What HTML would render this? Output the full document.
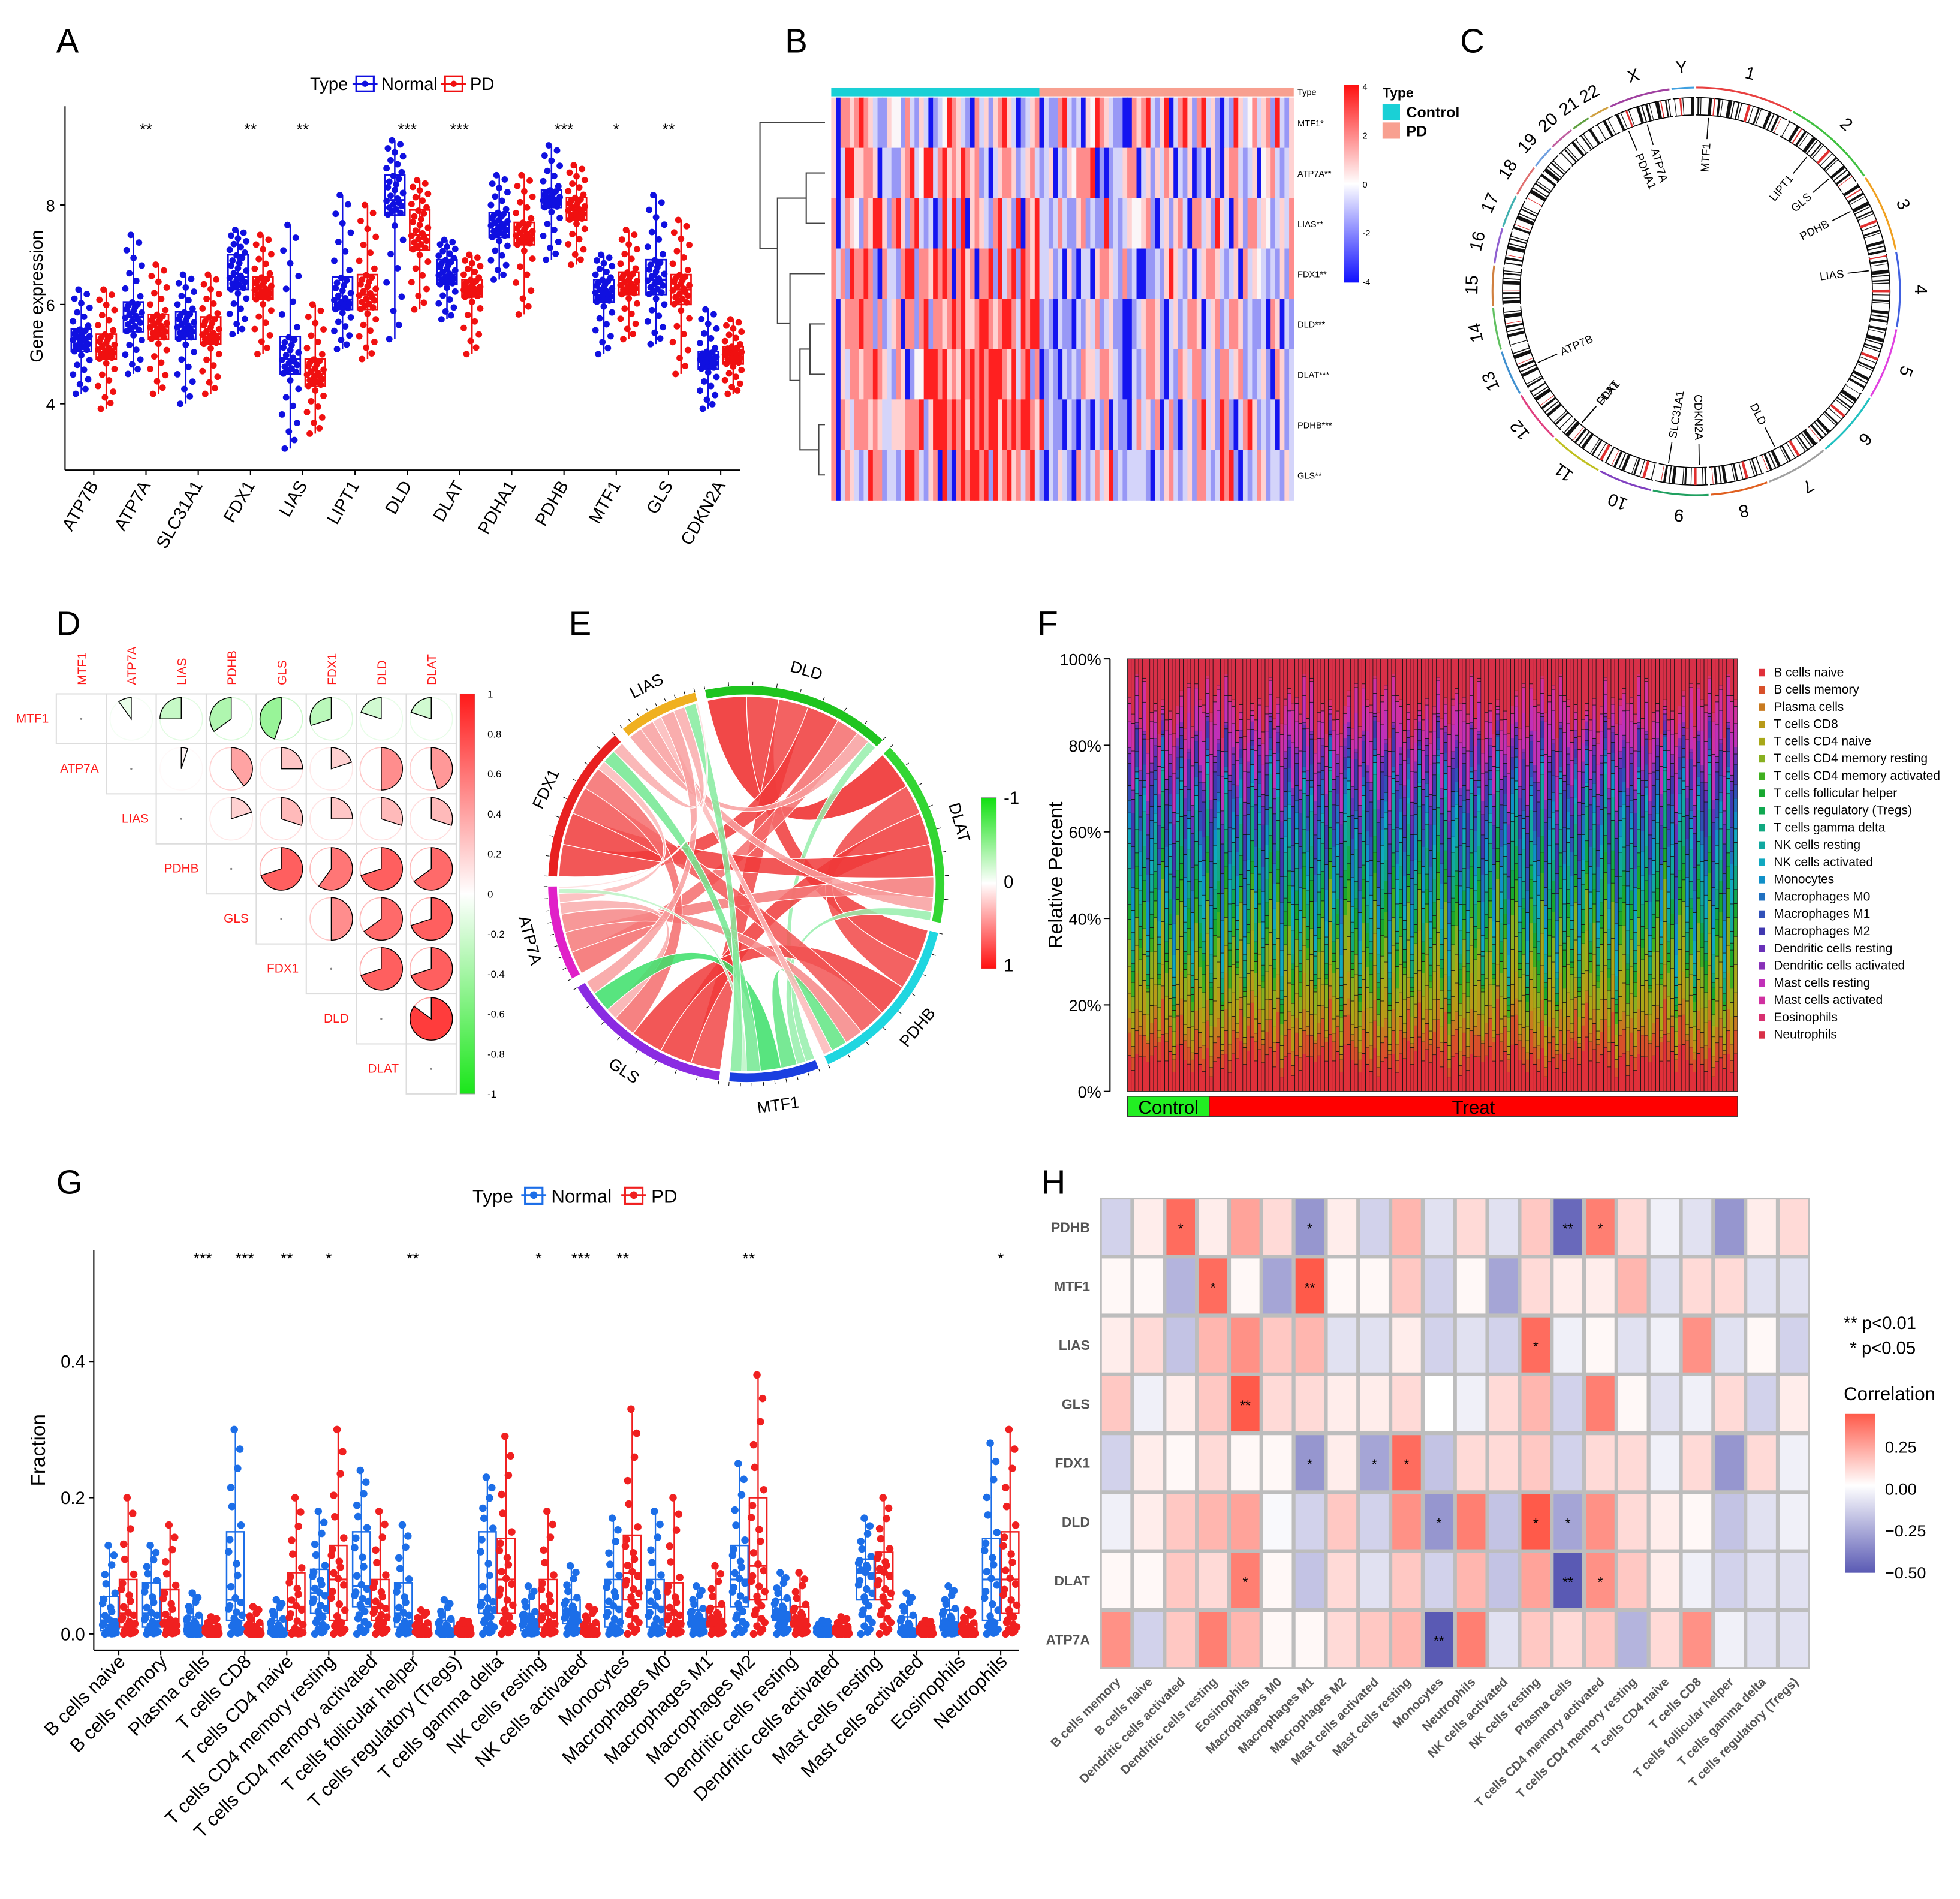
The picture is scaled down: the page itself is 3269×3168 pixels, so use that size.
<!DOCTYPE html>
<html><head><meta charset="utf-8"><title>Figure</title>
<style>
html,body{margin:0;padding:0;background:#fff;}
svg{display:block;font-family:"Liberation Sans",Arial,sans-serif;}
</style></head>
<body>
<svg id="fig" xmlns="http://www.w3.org/2000/svg" width="3269" height="3168" viewBox="0 0 1568 1519" preserveAspectRatio="none">
<rect x="0" y="0" width="1568" height="1519" fill="#fff"/>
<defs>
<linearGradient id="gB" x1="0" y1="0" x2="0" y2="1"><stop offset="0" stop-color="#ff1010"/><stop offset="0.5" stop-color="#ffffff"/><stop offset="1" stop-color="#1010ff"/></linearGradient>
<linearGradient id="gD" x1="0" y1="0" x2="0" y2="1"><stop offset="0" stop-color="#ff1a1a"/><stop offset="0.5" stop-color="#ffffff"/><stop offset="1" stop-color="#1ae61a"/></linearGradient>
<linearGradient id="gE" x1="0" y1="0" x2="0" y2="1"><stop offset="0" stop-color="#10e010"/><stop offset="0.5" stop-color="#ffffff"/><stop offset="1" stop-color="#ff1010"/></linearGradient>
<linearGradient id="gH" x1="0" y1="0" x2="0" y2="1"><stop offset="0" stop-color="#ff5a4a"/><stop offset="0.45" stop-color="#ffffff"/><stop offset="1" stop-color="#5a5ab4"/></linearGradient>
</defs>
</svg>
<script>
// ---------- Panel A data ----------
const genesA=["ATP7B","ATP7A","SLC31A1","FDX1","LIAS","LIPT1","DLD","DLAT","PDHA1","PDHB","MTF1","GLS","CDKN2A"];
const normalA=[[4.2,5.05,5.3,5.5,6.3],[4.6,5.45,5.75,6.05,7.4],[4.0,5.3,5.55,5.85,6.6],[5.4,6.3,6.55,7.0,7.5],[3.1,4.6,4.9,5.35,7.6],[5.1,5.9,6.1,6.55,8.2],[5.3,7.8,8.1,8.6,9.3],[5.7,6.4,6.6,6.9,7.3],[6.5,7.35,7.6,7.85,8.6],[6.9,7.95,8.1,8.3,9.2],[5.0,6.05,6.25,6.5,7.0],[5.2,6.2,6.5,6.9,8.2],[3.9,4.7,4.9,5.05,5.9]];
const pdA=[[3.9,4.9,5.1,5.4,6.3],[4.2,5.3,5.55,5.8,6.8],[4.2,5.2,5.4,5.75,6.6],[5.0,6.1,6.3,6.55,7.4],[3.4,4.35,4.6,4.9,6.0],[4.9,5.9,6.2,6.6,8.0],[5.9,7.1,7.4,7.9,8.5],[5.0,6.15,6.3,6.5,7.0],[5.8,7.2,7.4,7.65,8.6],[6.8,7.7,7.9,8.15,8.8],[5.3,6.2,6.4,6.65,7.5],[4.6,6.0,6.3,6.6,7.7],[4.2,4.8,5.0,5.15,5.7]];
const sigA=["","**","","**","**","","***","***","","***","*","**",""];
const ticksA=[4,6,8];
// ---------- Panel B data ----------
const rowsB=["MTF1*","ATP7A**","LIAS**","FDX1**","DLD***","DLAT***","PDHB***","GLS**"];
const cellsB=[
"pBrrprRrpqbbpwwbrqbpqBbqwRrpqbBrqpbprRpqBbqprBqbbrRqbqBpwRrpqbbBBrprRqbpRBqrRpbrRqpbBqbRpqwrqprbRqb",
"pBqRRpprrpBqqbbprRqwRRqrRprpRrprbqBqprrpbqprqbqpBqbpwrrrRBbBbqqprrBqpbpqrpBqbpBbqBpbBprrqbqpBwprqbq",
"rBqrpwbrpRRpbrRpbrRqbqBbRqRbRBprpqbrRqpbRBrpRqqbqrqbbprbqbbRbqbqpwwprbBqpbprqBrrqpbRpqBrpbrrqpwbqpq",
"rqrbRrrRrbBrqqbrRRbrrpRrRrBrRprBrrRbRqrRbRrpRqqpbqBpbBqqBprrpqbrbqBBbbqbpRpqbpBqprrpqbqpBrqpwqbqbpb",
"rBprrrRrrbrbqprBrrbrRbrrprRrRpprRRrprRRrqRrRRbqbBqbbBqbpqrbqpbbBBbqprrpbBqpbqrrpBqprbqrrpbqbbqBrpBqb",
"rBpqrrprrRrpqbrpBbwwRRRrRprpRrRrRrRRRrpRqrRbrBbqbBqbqbrppqrrpqbBBqbqrrpbBqbrpqrrbqpbrrqprbqbqpbBrpbq",
"rBrpqrrrprpqqppprrrRbpRRRrRrRpRrRrRRpRrRrRRrpRbqbbBqbBqbBqbrBqbbBqrqpbrBqrbBqpbrRqpbRrbBqrRpbqbqBpbq",
"rBqrpqbqRrrbqqbqRRrqbprBRbBrRrRRrRbRprRprqrRqbBqbpqbBrqbqrqpRbqbqqqqbBqbprqbqpbrrqbqRrRbBqbqrpbqqbpq"];
const ticksB=[4,2,0,-2,-4];
// ---------- Panel C data ----------
const chromNames=["1","2","3","4","5","6","7","8","9","10","11","12","13","14","15","16","17","18","19","20","21","22","X","Y"];
const chromSizes=[249,243,198,191,181,171,159,146,141,136,135,134,115,107,102,90,83,80,59,64,47,51,156,57];
const geneNamesC=["MTF1","LIPT1","GLS","PDHB","LIAS","DLD","CDKN2A","SLC31A1","DLAT","FDX1","ATP7B","PDHA1","ATP7A"];
const geneChrC=[0,1,1,2,3,6,8,8,10,10,12,22,22];
const genePosC=[36,99,191,58,39,107,22,113,111,110,52,19,77];
// ---------- Panel D data ----------
const genesD=["MTF1","ATP7A","LIAS","PDHB","GLS","FDX1","DLD","DLAT"];
const corrD=[
[1,-0.1,-0.25,-0.35,-0.45,-0.3,-0.2,-0.2],
[0,1,0.05,0.4,0.25,0.2,0.5,0.45],
[0,0,1,0.2,0.3,0.25,0.3,0.3],
[0,0,0,1,0.7,0.6,0.7,0.65],
[0,0,0,0,1,0.5,0.65,0.7],
[0,0,0,0,0,1,0.7,0.7],
[0,0,0,0,0,0,1,0.85],
[0,0,0,0,0,0,0,1]];
const ticksD=[1,0.8,0.6,0.4,0.2,0,-0.2,-0.4,-0.6,-0.8,-1];
// ---------- Panel E data ----------
const segE=["DLD","DLAT","PDHB","MTF1","GLS","ATP7A","FDX1","LIAS"];
const segColE=["#1fc41f","#33d633","#1fd6e0","#1a3fe0","#8a2be2","#e020c8","#e82020","#f0b020"];
const linkFromE=["DLD","DLD","DLD","DLD","DLD","DLD","DLD","DLAT","DLAT","DLAT","DLAT","DLAT","DLAT","PDHB","PDHB","PDHB","PDHB","PDHB","GLS","GLS","GLS","GLS","FDX1","FDX1","FDX1","MTF1","MTF1","ATP7A"];
const linkToE=["DLAT","PDHB","GLS","FDX1","ATP7A","LIAS","MTF1","PDHB","GLS","FDX1","ATP7A","LIAS","MTF1","GLS","FDX1","ATP7A","MTF1","LIAS","FDX1","ATP7A","MTF1","LIAS","ATP7A","MTF1","LIAS","ATP7A","LIAS","LIAS"];
const linkCorrE=[0.85,0.7,0.65,0.7,0.5,0.3,-0.2,0.65,0.7,0.7,0.45,0.3,-0.2,0.7,0.6,0.4,-0.35,0.2,0.5,0.25,-0.45,0.3,0.2,-0.3,0.25,-0.1,-0.25,0.05];
// ---------- Panel F data ----------
const cellTypes=["B cells naive","B cells memory","Plasma cells","T cells CD8","T cells CD4 naive","T cells CD4 memory resting","T cells CD4 memory activated","T cells follicular helper","T cells regulatory (Tregs)","T cells gamma delta","NK cells resting","NK cells activated","Monocytes","Macrophages M0","Macrophages M1","Macrophages M2","Dendritic cells resting","Dendritic cells activated","Mast cells resting","Mast cells activated","Eosinophils","Neutrophils"];
const colorsF=["#e0303a","#d8502a","#c87a20","#b89a18","#a8a818","#88b020","#40b020","#18a830","#10a850","#10a880","#10a8a0","#10a8c0","#1090c8","#2070c0","#3050b8","#4038b0","#6830b8","#8830b8","#c030b8","#d030a0","#d83070","#d83048"];
const meanF=[0.08,0.05,0.03,0.05,0.06,0.06,0.04,0.03,0.03,0.05,0.05,0.04,0.05,0.04,0.04,0.06,0.03,0.02,0.07,0.05,0.02,0.12];
const nControlF=22, nTreatF=142;
const shiftF=[0.02,-0.03,0.05,-0.01,0.04,-0.05,0.0,0.03,-0.04,0.06,-0.02,0.01,-0.06,0.03,0.05,-0.03,0.02,-0.05,0.04,0.0,-0.02,0.06,-0.04,0.01,0.03,-0.06,0.05,-0.01,0.02,-0.03,0.04,-0.05,0.0,0.05,-0.02,0.03,-0.04,0.01,0.06,-0.03,0.045,-0.055,0.015,0.035,-0.025];
const ticksF=["0%","20%","40%","60%","80%","100%"];
// ---------- Panel G data ----------
const normalG=[[0,0.005,0.02,0.055,0.13],[0,0.01,0.03,0.075,0.13],[0,0,0.01,0.025,0.06],[0,0.02,0.05,0.15,0.3],[0,0,0.005,0.02,0.05],[0,0.03,0.06,0.095,0.18],[0,0.04,0.07,0.15,0.24],[0,0.01,0.03,0.075,0.16],[0,0,0.005,0.02,0.05],[0,0.03,0.05,0.15,0.23],[0,0.005,0.02,0.03,0.07],[0,0.015,0.03,0.05,0.1],[0,0.01,0.04,0.08,0.17],[0,0.01,0.04,0.08,0.18],[0,0.01,0.02,0.035,0.07],[0,0.04,0.08,0.13,0.25],[0,0.02,0.03,0.05,0.09],[0,0,0.005,0.01,0.02],[0,0.05,0.09,0.11,0.17],[0,0,0.005,0.025,0.06],[0,0.005,0.015,0.035,0.07],[0,0.02,0.08,0.14,0.28]];
const pdG=[[0,0.01,0.03,0.08,0.2],[0,0.01,0.02,0.065,0.16],[0,0,0.005,0.01,0.025],[0,0,0.005,0.015,0.04],[0,0.005,0.04,0.09,0.2],[0,0.02,0.08,0.13,0.3],[0,0.02,0.04,0.08,0.18],[0,0,0.005,0.015,0.035],[0,0,0.005,0.01,0.02],[0,0.03,0.08,0.14,0.29],[0,0.01,0.03,0.08,0.18],[0,0,0.005,0.015,0.04],[0,0.05,0.09,0.145,0.33],[0,0.01,0.03,0.075,0.2],[0,0.01,0.02,0.04,0.1],[0,0.05,0.1,0.2,0.38],[0,0.01,0.02,0.04,0.09],[0,0,0.005,0.01,0.025],[0,0.05,0.09,0.12,0.2],[0,0,0.005,0.01,0.02],[0,0,0.005,0.015,0.035],[0,0.03,0.08,0.15,0.3]];
const sigG=["","","***","***","**","*","","**","","","*","***","**","","","**","","","","","","*"];
const ticksG=[0,0.2,0.4];
// ---------- Panel H data ----------
const rowsH=["PDHB","MTF1","LIAS","GLS","FDX1","DLD","DLAT","ATP7A"];
const colsH=["B cells memory","B cells naive","Dendritic cells activated","Dendritic cells resting","Eosinophils","Macrophages M0","Macrophages M1","Macrophages M2","Mast cells activated","Mast cells resting","Monocytes","Neutrophils","NK cells activated","NK cells resting","Plasma cells","T cells CD4 memory activated","T cells CD4 memory resting","T cells CD4 naive","T cells CD8","T cells follicular helper","T cells gamma delta","T cells regulatory (Tregs)"];
const corrH=[
[-0.15,0.05,0.4,0.05,0.25,0.1,-0.35,0.05,-0.15,0.2,-0.1,0.1,-0.1,0.15,-0.5,0.35,0.1,-0.05,-0.1,-0.35,0.05,0.1],
[0.02,0.02,-0.25,0.4,0.02,-0.3,0.45,0.02,0.02,0.15,-0.15,0.02,-0.3,0.1,0.05,0.05,0.2,-0.1,0.1,0.1,-0.1,-0.1],
[0.05,0.1,-0.2,0.2,0.3,0.15,0.2,-0.1,-0.1,0.05,-0.15,-0.1,-0.15,0.4,-0.05,0.02,-0.1,-0.05,0.3,-0.1,0.02,-0.15],
[0.15,-0.05,0.05,0.15,0.45,0.1,0.1,0.05,0.05,0.1,0,-0.05,0.1,0.2,-0.15,0.35,0.02,-0.1,-0.05,0.1,-0.15,0.05],
[-0.15,0.05,0.02,0.1,0.02,0.02,-0.35,0.05,-0.3,0.4,-0.2,0.1,0.1,0.15,-0.15,0.1,0.1,-0.05,0.1,-0.35,0.1,-0.05],
[-0.05,0.05,0.15,0.2,0.25,-0.02,-0.15,0.15,-0.15,0.3,-0.35,0.35,-0.2,0.45,-0.3,0.3,0.1,0.05,0.02,-0.2,-0.1,-0.05],
[0.02,0.02,0.15,0.1,0.35,0.02,-0.2,0.1,-0.1,0.15,-0.15,0.2,-0.2,0.25,-0.55,0.3,0.15,0.05,-0.05,-0.15,-0.1,-0.1],
[0.3,-0.15,0.15,0.35,0.2,0.02,0.02,0.1,0.15,0.2,-0.55,0.35,-0.1,0.15,0.1,0.15,-0.25,0.1,0.3,-0.05,-0.1,-0.1]];
const starsH=[
["","","*","","","","*","","","","","","","","**","*","","","","","",""],
["","","","*","","","**","","","","","","","","","","","","","","",""],
["","","","","","","","","","","","","","*","","","","","","","",""],
["","","","","**","","","","","","","","","","","","","","","","",""],
["","","","","","","*","","*","*","","","","","","","","","","","",""],
["","","","","","","","","","","*","","","*","*","","","","","","",""],
["","","","","*","","","","","","","","","","**","*","","","","","",""],
["","","","","","","","","","","**","","","","","","","","","","",""]];
const ticksH=[0.25,0,-0.25,-0.5];

// ---------- helpers ----------
const NS='http://www.w3.org/2000/svg';
const svg=document.getElementById('fig');
function mk(tag,attrs,parent){const e=document.createElementNS(NS,tag);for(const k in attrs)e.setAttribute(k,attrs[k]);(parent||svg).appendChild(e);return e;}
function nm(e,n){


return e;}
function txt(x,y,s,attrs,parent){const e=mk('text',Object.assign({x:x,y:y},attrs||{}),parent);e.textContent=s;return e;}
function grp(name){const g=mk('g',{});


return g;}
function pol(cx,cy,r,d){const a=d*Math.PI/180;return [cx+r*Math.sin(a),cy-r*Math.cos(a)];}
function arcPath(cx,cy,r,a0,a1){const p0=pol(cx,cy,r,a0),p1=pol(cx,cy,r,a1);const lg=(a1-a0)>180?1:0;return `M${p0[0]},${p0[1]}A${r},${r} 0 ${lg} 1 ${p1[0]},${p1[1]}`;}
function lerp(a,b,t){return Math.round(a+(b-a)*t);}
function mix(c1,c2,t){return `rgb(${lerp(c1[0],c2[0],t)},${lerp(c1[1],c2[1],t)},${lerp(c1[2],c2[2],t)})`;}
function quant(q,t){const s=t*4,i=Math.min(3,Math.floor(s));return q[i]+(q[i+1]-q[i])*(s-i);}
const jit=[-4,3,-1,5,-6,2,-3,6,0,-5,4,-2,1,-4,5,-1,3,-6,2,-3,6,0,-5,1];

// ---------- Panel letters ----------
[["A",45,42],["B",628,42],["C",1168,42],["D",45,508],["E",455,508],["F",830,508],["G",45,955],["H",833,955]].forEach(p=>{nm(txt(p[1],p[2],p[0],{'font-size':27}),'panel-label-'+p[0].toLowerCase());});

// ---------- Panel A ----------
(function(){
const g=grp('panel-a-boxplot');
const yA=v=>323-(v-4)*39.75, xA=i=>75+i*41.8;
nm(mk('line',{x1:52,y1:85,x2:52,y2:376,stroke:'#000','stroke-width':1},g),'y-axis');
nm(mk('line',{x1:52,y1:376,x2:592,y2:376,stroke:'#000','stroke-width':1},g),'x-axis');
ticksA.forEach(t=>{mk('line',{x1:48,x2:52,y1:yA(t),y2:yA(t),stroke:'#000'},g);nm(txt(44,yA(t)+5,String(t),{'font-size':13,'text-anchor':'end'},g),'y-tick-label');});
nm(txt(34,237,'Gene expression',{'font-size':14,'text-anchor':'middle',transform:'rotate(-90 34 237)'},g),'y-axis-title');
nm(txt(248,72,'Type',{'font-size':14},g),'legend-title');
[[285,'#1010e0','Normal'],[356,'#f01010','PD']].forEach(l=>{mk('rect',{x:l[0],y:61,width:14,height:12,fill:'#fff',stroke:l[1],'stroke-width':1.5},g);mk('line',{x1:l[0]-3,x2:l[0]+17,y1:67,y2:67,stroke:l[1],'stroke-width':1.5},g);mk('circle',{cx:l[0]+7,cy:67,r:2.5,fill:l[1]},g);nm(txt(l[0]+20,72,l[2],{'font-size':14},g),'legend-entry');});
genesA.forEach((gn,i)=>{
 [[normalA[i],'#1010e0',-10],[pdA[i],'#f01010',10]].forEach(s=>{
  const q=s[0],c=s[1],x=xA(i)+s[2];
  nm(mk('line',{x1:x,x2:x,y1:yA(q[0]),y2:yA(q[4]),stroke:c,'stroke-width':1.2},g),'whisker');
  for(let k=0;k<36;k++){const v=quant(q,k/35);mk('circle',{cx:x+jit[k%jit.length]*1.1,cy:yA(v),r:2.6,fill:c},g);}
  nm(mk('rect',{x:x-8,y:yA(q[3]),width:16,height:yA(q[1])-yA(q[3]),fill:'none',stroke:c,'stroke-width':1.3},g),'box-'+gn.toLowerCase());
  mk('line',{x1:x-8,x2:x+8,y1:yA(q[2]),y2:yA(q[2]),stroke:c,'stroke-width':1.6},g);
 });
 if(sigA[i])nm(txt(xA(i),108,sigA[i],{'font-size':13,'text-anchor':'middle'},g),'significance');
 mk('line',{x1:xA(i),x2:xA(i),y1:376,y2:380,stroke:'#000'},g);
 nm(txt(xA(i)+4,388,gn,{'font-size':14,'text-anchor':'end',transform:`rotate(-60 ${xA(i)+4} 388)`},g),'x-tick-label');
});
})();

// ---------- Panel B ----------
(function(){
const g=grp('panel-b-heatmap');
const cmap={R:'#ff2020',r:'#ff8c8c',p:'#ffd2d2',w:'#fbf6f8',q:'#d4d4fa',b:'#9898f6',B:'#1414f0'};
const x0=665,x1=1035,y0=78,rh=(400-78)/8,nc=100,cw=(x1-x0)/nc;
nm(mk('rect',{x:x0,y:70,width:(x1-x0)*0.45,height:7,fill:'#1ad0d6'},g),'type-bar-control');
nm(mk('rect',{x:x0+(x1-x0)*0.45,y:70,width:(x1-x0)*0.55,height:7,fill:'#f8a090'},g),'type-bar-pd');
nm(txt(1038,76,'Type',{'font-size':7},g),'type-label');
rowsB.forEach((rn,r)=>{let s=cellsB[r];while(s.length<nc)s+=s;
 for(let c=0;c<nc;c++)mk('rect',{x:x0+c*cw,y:y0+r*rh,width:cw+0.3,height:rh+0.3,fill:cmap[s[c]]||'#fff'},g);
 nm(txt(1038,y0+r*rh+rh/2+3,rn,{'font-size':7},g),'row-label');});
const yc=r=>y0+r*rh+rh/2;
const lines=[
`M660 ${yc(6)}H655V${yc(7)}H660`,`M660 ${yc(4)}H648V${yc(5)}H660`,`M648 ${(yc(4)+yc(5))/2}H640V${(yc(6)+yc(7))/2}H655`,
`M660 ${yc(3)}H632V${(yc(4)+yc(6))/2+5}H640`,`M660 ${yc(1)}H645V${yc(2)}H660`,`M645 ${(yc(1)+yc(2))/2}H622V${yc(3)+40}H632`,
`M660 ${yc(0)}H608V${yc(3)-20}H622`];
lines.forEach(p=>{nm(mk('path',{d:p,stroke:'#444',fill:'none','stroke-width':1},g),'dendrogram-branch');});
nm(mk('rect',{x:1075,y:68,width:12,height:158,fill:'url(#gB)'},g),'colorbar');
ticksB.forEach((t,i)=>{nm(txt(1090,72+i*39,String(t),{'font-size':7},g),'colorbar-tick');});
nm(txt(1106,78,'Type',{'font-size':11,'font-weight':'bold'},g),'legend-title');
nm(mk('rect',{x:1106,y:83,width:14,height:13,fill:'#1ad0d6'},g),'legend-control-swatch');
nm(txt(1125,94,'Control',{'font-size':12,'font-weight':'bold'},g),'legend-entry');
nm(mk('rect',{x:1106,y:98,width:14,height:13,fill:'#f8a090'},g),'legend-pd-swatch');
nm(txt(1125,109,'PD',{'font-size':12,'font-weight':'bold'},g),'legend-entry');
})();

// ---------- Panel C ----------
(function(){
const g=grp('panel-c-circos');
const cx=1357,cy=233,gap=0.6;
const total=chromSizes.reduce((a,b)=>a+b,0),span=360-gap*24;
const pal=["#e84040","#40c040","#f0a020","#4060e0","#e040e0","#20c0c0","#a0a0a0","#e06020","#20a060","#8040c0","#c0c020","#e04080","#4090d0","#60c060","#d08040","#9060d0","#40b0b0","#e07070","#70a0e0","#c060a0","#60a040","#d0a040","#a040a0","#40a0e0"];
const bands=[1.2,0.5,2.0,0.8,1.5,0.4,2.5,0.7,1.0,0.6,1.8,0.5];
let a=0;const starts=[];
chromSizes.forEach((sz,i)=>{const w=sz/total*span;starts.push(a);
 nm(mk('path',{d:arcPath(cx,cy,163,a,a+w),stroke:pal[i],'stroke-width':1.5,fill:'none'},g),'chrom-arc-'+chromNames[i]);
 nm(mk('path',{d:arcPath(cx,cy,148,a,a+w),stroke:'#fff','stroke-width':14,fill:'none'},g),'ideogram-'+chromNames[i]);
 mk('path',{d:arcPath(cx,cy,155,a,a+w),stroke:'#000','stroke-width':0.8,fill:'none'},g);
 mk('path',{d:arcPath(cx,cy,141,a,a+w),stroke:'#000','stroke-width':0.8,fill:'none'},g);
 let b=a+0.4,k=i;
 while(b<a+w-0.4){const bw=bands[k%bands.length]*0.45;mk('path',{d:arcPath(cx,cy,148,b,Math.min(b+bw,a+w)),stroke:(k%7==3)?'#e03030':'#111','stroke-width':14,fill:'none'},g);b+=bw+bands[(k+5)%bands.length]*0.9;k++;}
 const lp=pol(cx,cy,180,a+w/2);
 nm(txt(lp[0],lp[1]+5,chromNames[i],{'font-size':14,'text-anchor':'middle',transform:`rotate(${a+w/2} ${lp[0]} ${lp[1]})`},g),'chrom-label');
 a+=w+gap;});
geneNamesC.forEach((gn,i)=>{const ci=geneChrC[i];const ang=starts[ci]+genePosC[i]/total*span;
 const p1=pol(cx,cy,139,ang),p2=pol(cx,cy,122,ang);
 nm(mk('line',{x1:p1[0],y1:p1[1],x2:p2[0],y2:p2[1],stroke:'#000','stroke-width':0.8},g),'gene-tick');
 const p=pol(cx,cy,119,ang);let rot,anc;
 if(ang<180){rot=ang-90;anc='end';}else{rot=ang+90;anc='start';}
 nm(txt(p[0],p[1]+3,gn,{'font-size':9,'text-anchor':anc,transform:`rotate(${rot} ${p[0]} ${p[1]})`},g),'gene-label');});
})();

// ---------- Panel D ----------
(function(){
const g=grp('panel-d-corrplot');
const x0=45,y0=555,c=40;
const col=v=>v>=0?mix([255,255,255],[255,26,26],v):mix([255,255,255],[26,230,26],-v);
genesD.forEach((gn,i)=>{
 nm(txt(x0+i*c+24,548,gn,{'font-size':10,fill:'#ff1a1a','text-anchor':'start',transform:`rotate(-90 ${x0+i*c+24} 548)`},g),'column-label');
 nm(txt(x0+i*c-6,y0+i*c+23,gn,{'font-size':10,fill:'#ff1a1a','text-anchor':'end'},g),'row-label');
 for(let j=i;j<8;j++){const x=x0+j*c,y=y0+i*c;
  mk('rect',{x:x,y:y,width:c,height:c,fill:'#fff',stroke:'#ddd','stroke-width':1},g);
  if(j==i){mk('circle',{cx:x+c/2,cy:y+c/2,r:0.8,fill:'#888'},g);continue;}
  const v=corrD[i][j],cc=x+c/2,cyy=y+c/2,R=17;
  mk('circle',{cx:cc,cy:cyy,r:R,fill:'none',stroke:col(v*0.5),'stroke-width':0.8},g);
  const ang=Math.abs(v)*360,dir=v>=0?1:-1;
  const e=pol(cc,cyy,R,dir*ang);const lg=ang>180?1:0;
  nm(mk('path',{d:`M${cc},${cyy}L${cc},${cyy-R}A${R},${R} 0 ${lg} ${v>=0?1:0} ${e[0]},${e[1]}Z`,fill:col(v),stroke:'#000','stroke-width':0.7},g),'pie-'+gn.toLowerCase()+'-'+genesD[j].toLowerCase());
 }});
nm(mk('rect',{x:368,y:555,width:12,height:320,fill:'url(#gD)',stroke:'#999','stroke-width':0.5},g),'colorbar');
ticksD.forEach((t,i)=>{nm(txt(390,555+i*32+3,String(t),{'font-size':8},g),'colorbar-tick');});
})();

// ---------- Panel E ----------
(function(){
const g=grp('panel-e-chord');
const cx=597,cy=707,R=150,gap=3;
const tot=segE.map(s=>{let t=0;linkFromE.forEach((f,k)=>{if(f==s||linkToE[k]==s)t+=Math.abs(linkCorrE[k]);});return t;});
const T=tot.reduce((a,b)=>a+b,0),span=360-gap*segE.length;
let a=-12;const cur={},scale=span/T;
segE.forEach((s,i)=>{cur[s]=a;const w=tot[i]*scale;
 nm(mk('path',{d:arcPath(cx,cy,R+5,a,a+w),stroke:segColE[i],'stroke-width':7,fill:'none'},g),'sector-'+s.toLowerCase());
 for(let t=0;t<=w;t+=w/8){const p1=pol(cx,cy,R+9,a+t),p2=pol(cx,cy,R+12,a+t);mk('line',{x1:p1[0],y1:p1[1],x2:p2[0],y2:p2[1],stroke:'#000','stroke-width':0.5},g);}
 const lp=pol(cx,cy,R+28,a+w/2);
 nm(txt(lp[0],lp[1]+5,s,{'font-size':13,'text-anchor':'middle',transform:`rotate(${(a+w/2+90)%180-90} ${lp[0]} ${lp[1]})`},g),'sector-label');
 a+=w+gap;});
linkFromE.forEach((f,k)=>{const t=linkToE[k],v=linkCorrE[k],w=Math.abs(v)*scale;
 const a0=cur[f],a1=a0+w;cur[f]=a1;const b0=cur[t],b1=b0+w;cur[t]=b1;
 const p0=pol(cx,cy,R,a0),p1=pol(cx,cy,R,a1),q0=pol(cx,cy,R,b0),q1=pol(cx,cy,R,b1);
 const d=`M${p0[0]},${p0[1]}A${R},${R} 0 0 1 ${p1[0]},${p1[1]}Q${cx},${cy} ${q0[0]},${q0[1]}A${R},${R} 0 0 1 ${q1[0]},${q1[1]}Q${cx},${cy} ${p0[0]},${p0[1]}Z`;
 const fill=v>=0?mix([255,235,235],[238,40,40],Math.min(1,v*1.3)):mix([225,250,225],[40,220,90],Math.min(1,-v*2));
 const el=mk('path',{d:d,fill:fill,'fill-opacity':0.85,stroke:'#fff','stroke-width':0.6},g);
 
 });
nm(mk('rect',{x:785,y:638,width:12,height:137,fill:'url(#gE)',stroke:'#999','stroke-width':0.5},g),'colorbar');
[["-1",643],["0",710],["1",777]].forEach(l=>{nm(txt(803,l[1],l[0],{'font-size':14},g),'colorbar-tick');});
})();

// ---------- Panel F ----------
(function(){
const g=grp('panel-f-stacked-bar');
const x0=902,x1=1390,yF=v=>873-v*346,n=nControlF+nTreatF,bw=(x1-x0)/n;
const sm=meanF.reduce((a,b)=>a+b,0);
for(let s=0;s<n;s++){
 const sh=shiftF[s%shiftF.length],sh2=shiftF[(s*7+3)%shiftF.length];
 const comp=meanF.map((m,k)=>Math.max(0.004,m/sm*(1+(k<11?sh*8:-sh*8)+((k%4)<2?sh2*6:-sh2*6))));
 const cs=comp.reduce((a,b)=>a+b,0);let acc=0;
 comp.forEach((v,k)=>{const f=v/cs;const r=mk('rect',{x:x0+s*bw,y:yF(acc+f),width:bw,height:f*346,fill:colorsF[k],stroke:'#111','stroke-width':0.35},g);
 
 
 acc+=f;});
}
nm(mk('rect',{x:x0,y:527,width:x1-x0,height:346,fill:'none',stroke:'#333','stroke-width':0.6},g),'plot-frame');
ticksF.forEach((t,i)=>{nm(txt(881,yF(i*0.2)+5,t,{'font-size':13,'text-anchor':'end'},g),'y-tick-label');mk('line',{x1:883,x2:888,y1:yF(i*0.2),y2:yF(i*0.2),stroke:'#000'},g);});
nm(mk('line',{x1:888,x2:888,y1:527,y2:873,stroke:'#000'},g),'y-axis');
nm(txt(850,700,'Relative Percent',{'font-size':16,'text-anchor':'middle',transform:'rotate(-90 850 700)'},g),'y-axis-title');
const cw=(x1-x0)*nControlF/n;
nm(mk('rect',{x:x0,y:877,width:cw,height:16,fill:'#22ee22',stroke:'#333','stroke-width':0.5},g),'group-bar-control');
nm(mk('rect',{x:x0+cw,y:877,width:x1-x0-cw,height:16,fill:'#ff0000',stroke:'#333','stroke-width':0.5},g),'group-bar-treat');
nm(txt(x0+cw/2,891,'Control',{'font-size':15,'text-anchor':'middle'},g),'group-label');
nm(txt(x0+cw+(x1-x0-cw)/2,891,'Treat',{'font-size':15,'text-anchor':'middle'},g),'group-label');
cellTypes.forEach((ct,k)=>{const y=541+k*13.8;mk('rect',{x:1407,y:y-6,width:5,height:6,fill:colorsF[k]},g);nm(txt(1419,y,ct,{'font-size':10},g),'legend-entry');});
})();

// ---------- Panel G ----------
(function(){
const g=grp('panel-g-boxplot');
const yG=v=>1307-v*545,xG=i=>95+i*33.6;
nm(mk('line',{x1:75,y1:1000,x2:75,y2:1320,stroke:'#000'},g),'y-axis');
nm(mk('line',{x1:75,y1:1320,x2:815,y2:1320,stroke:'#000'},g),'x-axis');
ticksG.forEach(t=>{mk('line',{x1:71,x2:75,y1:yG(t),y2:yG(t),stroke:'#000'},g);nm(txt(68,yG(t)+5,t.toFixed(1),{'font-size':14,'text-anchor':'end'},g),'y-tick-label');});
nm(txt(36,1160,'Fraction',{'font-size':16,'text-anchor':'middle',transform:'rotate(-90 36 1160)'},g),'y-axis-title');
nm(txt(378,962,'Type',{'font-size':15},g),'legend-title');
[[420,'#1c6ee8','Normal'],[500,'#f02020','PD']].forEach(l=>{mk('rect',{x:l[0],y:950,width:14,height:13,fill:'#fff',stroke:l[1],'stroke-width':1.5},g);mk('line',{x1:l[0]-3,x2:l[0]+17,y1:956,y2:956,stroke:l[1],'stroke-width':1.5},g);mk('circle',{cx:l[0]+7,cy:956,r:3,fill:l[1]},g);nm(txt(l[0]+21,962,l[2],{'font-size':15},g),'legend-entry');});
cellTypes.forEach((ct,i)=>{
 [[normalG[i],'#1c6ee8',-7.5],[pdG[i],'#f02020',7.5]].forEach(s=>{
  const q=s[0],c=s[1],x=xG(i)+s[2];
  mk('line',{x1:x,x2:x,y1:yG(q[0]),y2:yG(q[4]),stroke:c,'stroke-width':1.1},g);
  for(let k=0;k<28;k++){const v=quant(q,Math.pow(k/27,1.3));mk('circle',{cx:x+jit[(k*5)%jit.length]*0.9,cy:yG(v),r:3,fill:c},g);}
  nm(mk('rect',{x:x-7,y:yG(q[3]),width:14,height:Math.max(0.5,yG(q[1])-yG(q[3])),fill:'none',stroke:c,'stroke-width':1.2},g),'box');
  mk('line',{x1:x-7,x2:x+7,y1:yG(q[2]),y2:yG(q[2]),stroke:c,'stroke-width':1.5},g);
 });
 if(sigG[i])nm(txt(xG(i),1011,sigG[i],{'font-size':13,'text-anchor':'middle'},g),'significance');
 mk('line',{x1:xG(i),x2:xG(i),y1:1320,y2:1324,stroke:'#000'},g);
 nm(txt(xG(i)+6,1330,ct,{'font-size':15,'text-anchor':'end',transform:`rotate(-45 ${xG(i)+6} 1330)`},g),'x-tick-label');
});
})();

// ---------- Panel H ----------
(function(){
const g=grp('panel-h-heatmap');
const x0=880,y0=958,cw=(1448-x0)/22,rh=(1335-y0)/8;
const col=v=>v>=0?mix([255,255,255],[255,90,74],Math.min(1,v/0.45)):mix([255,255,255],[90,90,180],Math.min(1,-v/0.55));
nm(mk('rect',{x:x0,y:y0,width:1448-x0,height:1335-y0,fill:'#bdbdbd'},g),'grid-background');
rowsH.forEach((rn,r)=>{
 nm(txt(872,y0+r*rh+rh/2+4,rn,{'font-size':11,'font-weight':'bold',fill:'#555','text-anchor':'end'},g),'row-label');
 colsH.forEach((cn,c)=>{const x=x0+c*cw,y=y0+r*rh;
  const e=mk('rect',{x:x+1.5,y:y+1.5,width:cw-3,height:rh-3,fill:col(corrH[r][c])},g);
  
  
  if(starsH[r][c])txt(x+cw/2,y+rh/2+5,starsH[r][c],{'font-size':11,'text-anchor':'middle'},g);});});
colsH.forEach((cn,c)=>{const x=x0+c*cw+cw/2+4;nm(txt(x,1346,cn,{'font-size':10,'font-weight':'bold',fill:'#555','text-anchor':'end',transform:`rotate(-45 ${x} 1346)`},g),'column-label');});
nm(txt(1475,1063,'**  p<0.01',{'font-size':14},g),'legend-p001');
nm(txt(1480,1083,'*  p<0.05',{'font-size':14},g),'legend-p005');
nm(txt(1475,1120,'Correlation',{'font-size':15},g),'colorbar-title');
nm(mk('rect',{x:1476,y:1131,width:24,height:127,fill:'url(#gH)'},g),'colorbar');
ticksH.forEach((t,i)=>{nm(txt(1508,1162+i*33.5,(t<0?'\u2212':'')+Math.abs(t).toFixed(2),{'font-size':13},g),'colorbar-tick');});
})();
</script>
</body></html>
